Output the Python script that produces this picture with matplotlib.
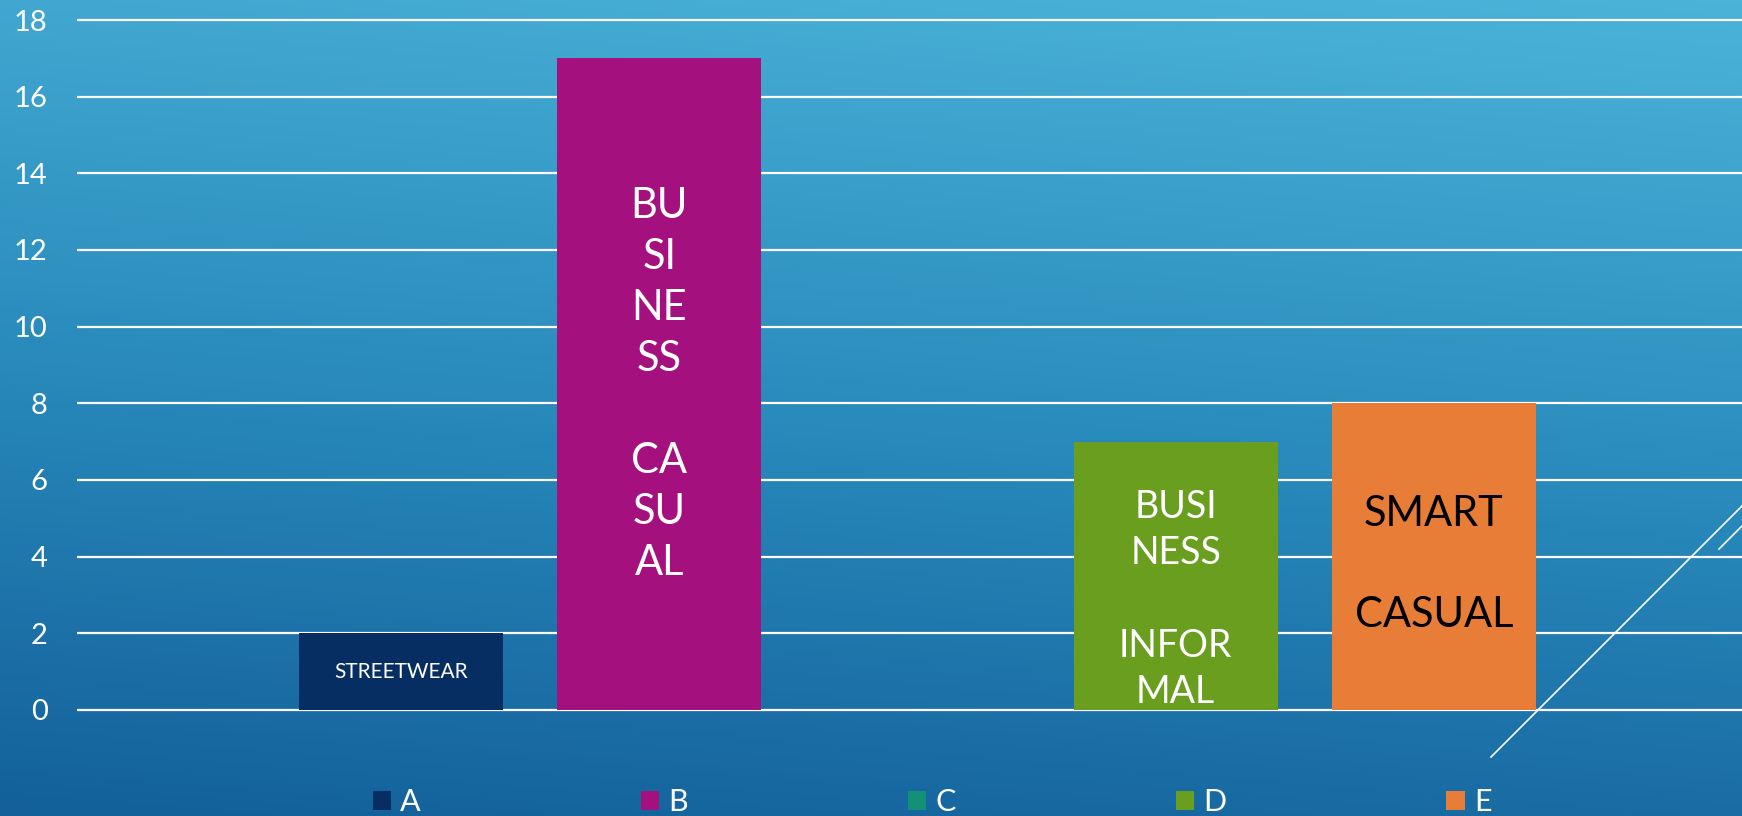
import numpy as np
import matplotlib.pyplot as plt
from matplotlib.colors import LinearSegmentedColormap
from matplotlib.lines import Line2D

plt.rcParams['font.family'] = ['Lato', 'DejaVu Sans']

# chart data
series = ['A', 'B', 'C', 'D', 'E']
values = [2, 17, 0, 7, 8]
colors = ['#062e62', '#a5107f', '#159078', '#6a9e1f', '#e87d37']
bar_text = ['STREETWEAR', 'BU\nSI\nNE\nSS\n\nCA\nSU\nAL', '',
            'BUSI\nNESS\n\nINFOR\nMAL', 'SMART\n\nCASUAL']
text_colors = ['white', 'white', 'white', 'white', 'black']
text_sizes = [15, 30, 30, 27, 30]
text_spacing = [1.4, 1.42, 1.4, 1.35, 1.41]
text_shift = [0, 0, 0, -0.62, -0.2]
yticks = list(range(0, 19, 2))

W, H = 1742, 816
fig = plt.figure(figsize=(W / 100, H / 100), dpi=100)

# background gradient (dark bottom-left, light top-right)
bg = fig.add_axes([0, 0, 1, 1], zorder=-10)
gx, gy = np.meshgrid(np.linspace(0, 1, 400), np.linspace(1, 0, 200))
t = 0.85 * gy + 0.15 * gx
cmap = LinearSegmentedColormap.from_list('bg', ['#13609a', '#2a8cbd', '#4bb3d8'])
bg.imshow(t, cmap=cmap, aspect='auto', extent=[0, 1, 0, 1], vmin=0, vmax=1)
bg.axis('off')

px = 690 / 18  # pixels per unit
ax = fig.add_axes([77 / W, (816 - 710 - 0.1 * px) / H, 1 - 77 / W, (690 + 0.2 * px) / H])
ax.set_facecolor('none')

x = np.arange(len(series))
bars = ax.bar(x, values, width=0.79, color=colors, zorder=3)
for b, name in zip(bars, series):
    b.set_label(name)

for xi, v, txt, tc, ts, ls, dy in zip(x, values, bar_text, text_colors,
                                      text_sizes, text_spacing, text_shift):
    if txt:
        ax.text(xi, v / 2 + dy, txt, ha='center', va='center', color=tc,
                fontsize=ts, linespacing=ls, zorder=4)

ax.set_ylim(-0.1, 18.1)
ax.set_xlim(-1.2546, 5.193)
ax.set_yticks(yticks)
ax.set_xticks([])
ax.yaxis.grid(True, color='white', linewidth=1.6, zorder=1)
ax.set_axisbelow(True)
ax.tick_params(axis='y', length=0, pad=21, labelsize=21, labelcolor='white')
for s in ax.spines.values():
    s.set_visible(False)

ax.legend(loc='center', bbox_to_anchor=(0.535, 0.017), bbox_transform=fig.transFigure,
          ncol=5, frameon=False, fontsize=22, labelcolor='white',
          handlelength=0.6, handleheight=0.6, handletextpad=0.3,
          columnspacing=7.2, borderpad=0)

# decorative diagonal lines
fig.add_artist(Line2D([1491 / W, 1760 / W], [(H - 757) / H, (H - 488) / H],
                      color='white', linewidth=1.2, zorder=20))
fig.add_artist(Line2D([1719 / W, 1760 / W], [(H - 549) / H, (H - 508) / H],
                      color='white', linewidth=1.2, zorder=20))

fig.savefig('out.png', dpi=100)
